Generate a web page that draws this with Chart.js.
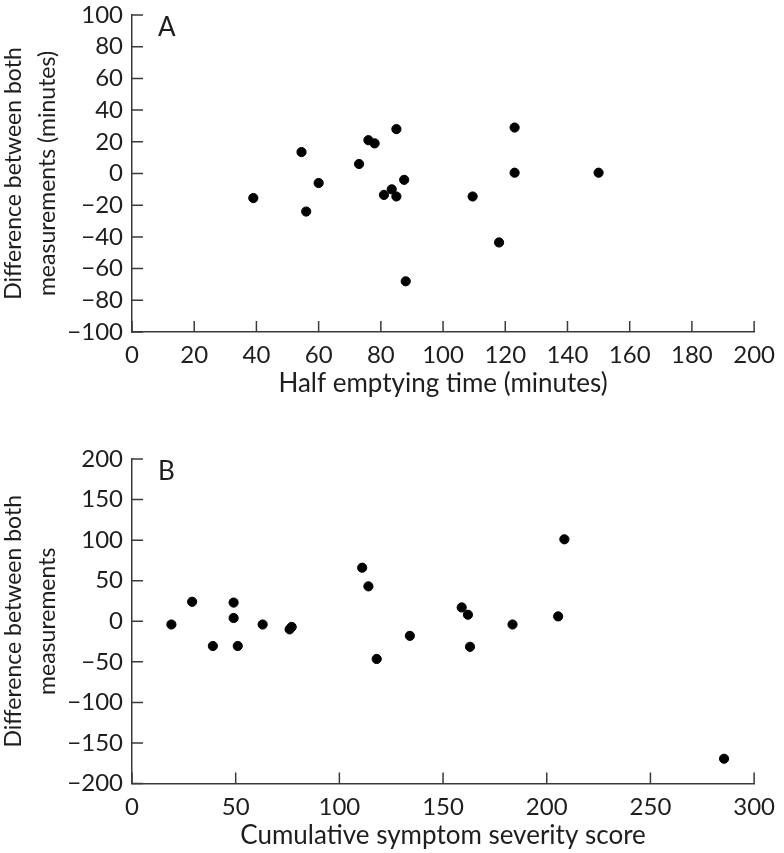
<!DOCTYPE html>
<html>
<head>
<meta charset="utf-8">
<script src="https://cdn.jsdelivr.net/npm/chart.js@4.4.0/dist/chart.umd.min.js"></script>
<style>
  html, body { margin: 0; padding: 0; background: #fff; }
  body { width: 784px; height: 853px; position: relative; overflow: hidden; }
  .panel { position: absolute; left: 0; width: 784px; }
  #panelA { top: -6px; height: 416px; }
  #panelB { top: 430px; height: 423px; }
</style>
</head>
<body>
<div class="panel" id="panelA"><canvas id="chartA"></canvas></div>
<div class="panel" id="panelB"><canvas id="chartB"></canvas></div>
<script>
// Panel A: half emptying time vs difference (minutes)
const halfEmptyingTime = [39, 54.5, 56, 60, 73, 76, 78, 81, 83.5, 85, 85, 87.5, 88, 109.5, 118, 123, 123, 150];
const differenceA = [-15.5, 13.5, -24, -6, 6, 21, 19, -13.5, -10, 28, -14.5, -4, -68, -14.5, -43.5, 29, 0.5, 0.5];

// Panel B: cumulative symptom severity score vs difference
const severityScore = [19, 29, 39, 49, 49, 51, 63, 76, 77, 111, 114, 118, 134, 159, 162, 163, 183.5, 205.5, 208.5, 285.5];
const differenceB = [-4, 24, -30.5, 23, 4, -30.5, -4, -10, -7, 66, 43, -46.5, -18, 17, 8, -31.5, -4, 6, 101, -169.5];

const xTicksA = [0, 200, 20];
const yTicksA = [-100, 100, 20];
const xTicksB = [0, 300, 50];
const yTicksB = [-200, 200, 50];

const fontFamily = "Lato, 'Noto Sans', sans-serif";
const textColor = '#1e1e1e';
const axisColor = '#3a3a3a';

// short tick marks drawn inward from the axis lines
const innerTicks = {
    id: 'innerTicks',
    afterDraw(chart) {
        const { ctx, chartArea, scales } = chart;
        ctx.save();
        ctx.strokeStyle = axisColor;
        ctx.lineWidth = 1.5;
        ctx.beginPath();
        scales.x.ticks.forEach(t => {
            const px = scales.x.getPixelForValue(t.value);
            ctx.moveTo(px, chartArea.bottom);
            ctx.lineTo(px, chartArea.bottom - 11);
        });
        scales.y.ticks.forEach(t => {
            const py = scales.y.getPixelForValue(t.value);
            ctx.moveTo(chartArea.left, py);
            ctx.lineTo(chartArea.left + 11, py);
        });
        ctx.stroke();
        // panel letter
        ctx.fillStyle = textColor;
        ctx.font = '26px ' + fontFamily;
        ctx.textBaseline = 'middle';
        ctx.textAlign = 'left';
        ctx.fillText(chart.options.plugins.panelLetter, chartArea.left + 26, chartArea.top + 13);
        ctx.restore();
    }
};

function makeChart(id, xs, ys, xr, yr, xTitle, yTitle, letter, pad, xHeight, titlePad) {
    const points = xs.map((x, i) => ({ x: x, y: ys[i] }));
    return new Chart(document.getElementById(id), {
        type: 'scatter',
        data: {
            datasets: [{
                data: points,
                backgroundColor: '#000',
                borderColor: '#000',
                pointRadius: 4.6,
                pointHoverRadius: 4.6
            }]
        },
        options: {
            responsive: true,
            maintainAspectRatio: false,
            animation: false,
            layout: { padding: pad },
            plugins: {
                legend: { display: false },
                tooltip: { enabled: false },
                panelLetter: letter
            },
            scales: {
                x: {
                    type: 'linear',
                    min: xr[0],
                    max: xr[1],
                    grid: { display: false, drawTicks: false },
                    border: { display: true, color: axisColor, width: 1.5 },
                    ticks: {
                        stepSize: xr[2],
                        autoSkip: false,
                        color: textColor,
                        padding: 9,
                        maxRotation: 0,
                        font: { family: fontFamily, size: 24 }
                    },
                    title: {
                        display: true,
                        text: xTitle,
                        color: textColor,
                        padding: { top: 0, bottom: titlePad },
                        font: { family: fontFamily, size: 26 }
                    },
                    afterFit: s => { s.height = xHeight; }
                },
                y: {
                    type: 'linear',
                    min: yr[0],
                    max: yr[1],
                    grid: { display: false, drawTicks: false },
                    border: { display: true, color: axisColor, width: 1.5 },
                    ticks: {
                        stepSize: yr[2],
                        autoSkip: false,
                        color: textColor,
                        padding: 9,
                        font: { family: fontFamily, size: 24, lineHeight: 1 },
                        callback: v => (v < 0 ? '\u2212' + Math.abs(v) : String(v))
                    },
                    title: {
                        display: true,
                        text: yTitle,
                        color: textColor,
                        padding: { top: -4, bottom: 0 },
                        font: { family: fontFamily, size: 23, lineHeight: 1.5 }
                    },
                    afterFit: s => { s.width = 132; }
                }
            }
        },
        plugins: [innerTicks]
    });
}

makeChart('chartA', halfEmptyingTime, differenceA, xTicksA, yTicksA,
    'Half emptying time (minutes)',
    ['Difference between both', 'measurements (minutes)'],
    'A', { top: 16, right: 20, bottom: 0, left: 0 }, 78, 11);

makeChart('chartB', severityScore, differenceB, xTicksB, yTicksB,
    'Cumulative symptom severity score',
    ['Difference between both', 'measurements'],
    'B', { top: 29, right: 20, bottom: 0, left: 0 }, 69.5, 1.5);
</script>
</body>
</html>
